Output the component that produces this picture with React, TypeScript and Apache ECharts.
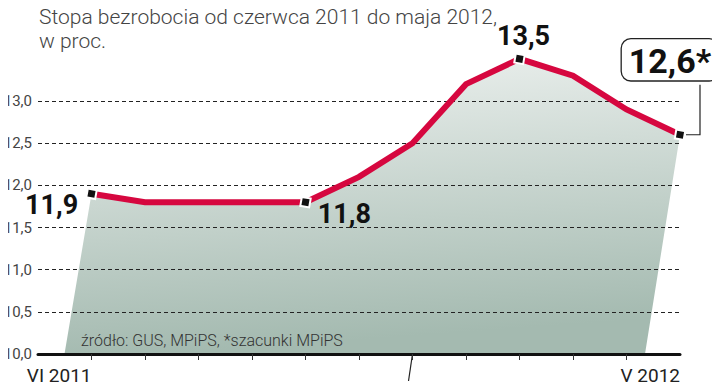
import React, { useEffect, useRef } from 'react';
import * as echarts from 'echarts';

const TITLE = 'Stopa bezrobocia od czerwca 2011 do maja 2012,\nw proc.';
const SOURCE = 'źródło: GUS, MPiPS, *szacunki MPiPS';
const months = ['VI 2011', 'VII', 'VIII', 'IX', 'X', 'XI', 'XII', 'I 2012', 'II', 'III', 'IV', 'V 2012'];
const rates = [11.9, 11.8, 11.8, 11.8, 11.8, 12.1, 12.5, 13.2, 13.5, 13.3, 12.9, 12.6];
const markedIdx = [0, 4, 8, 11];
const estimateIdx = [11];
const shownMonthLabels = ['VI 2011', 'V 2012'];
const yMin = 10;
const yMax = 13;
const yStep = 0.5;

const BOLD = "Roboto, 'Noto Sans', sans-serif";
const LIGHT = "Roboto, 'Noto Sans', sans-serif";

const fmt = (v: number) => v.toFixed(1).replace('.', ',');

export default function App() {
  const ref = useRef<HTMLDivElement>(null);
  useEffect(() => {
    const chart = echarts.init(ref.current!, null, { renderer: 'svg' });
    const cats = ['', ...months];
    const labelCfg: Record<number, any> = {
      0: { position: 'left', distance: 7, offset: [0, 11] },
      4: { position: 'right', distance: 6, offset: [0, 12] },
      8: { position: 'top', distance: 3, offset: [4, 0] },
      11: {
        position: 'top', distance: 4, offset: [-10, -44],
        fontSize: 34, backgroundColor: '#fff', borderColor: '#222', borderWidth: 1.3,
        borderRadius: 9, padding: [5, 7, 2, 7],
      },
    };
    const lineData = rates.map((v, i) => {
      const item: any = { value: [i + 1, v] };
      if (markedIdx.includes(i)) {
        item.symbol = 'rect';
        item.symbolSize = 9;
        item.symbolRotate = -10;
        item.itemStyle = { color: '#111', borderColor: '#fff', borderWidth: 2 };
        item.label = {
          show: true,
          fontFamily: BOLD,
          fontWeight: 'bold',
          fontSize: 27,
          color: '#111',
          formatter: fmt(v) + (estimateIdx.includes(i) ? '*' : ''),
          ...labelCfg[i],
        };
      }
      return item;
    });
    const gradient = new echarts.graphic.LinearGradient(0, 0, 0.15, 1, [
      { offset: 0, color: '#eef2f0' },
      { offset: 1, color: '#a4bab0' },
    ]);
    chart.setOption({
      animation: false,
      title: [
        {
          text: TITLE, left: 34, top: 0,
          textStyle: { fontFamily: LIGHT, fontWeight: 300, fontSize: 21, color: '#444', lineHeight: 24 },
        },
        {
          text: SOURCE, left: 76, top: 327,
          textStyle: { fontFamily: LIGHT, fontWeight: 300, fontSize: 16, color: '#333' },
        },
      ],
      grid: { left: 38, right: 40, top: 101, bottom: 36 },
      xAxis: {
        type: 'category',
        data: cats,
        boundaryGap: false,
        axisLine: { lineStyle: { color: '#111', width: 3 } },
        axisTick: {
          interval: (idx: number) => idx >= 1 && idx < cats.length - 1,
          length: 6,
          lineStyle: { color: '#333', width: 1 },
        },
        axisLabel: {
          interval: (idx: number, val: string) => shownMonthLabels.includes(val),
          align: 'right',
          margin: 12,
          fontFamily: LIGHT,
          fontSize: 19,
          color: '#222',
        },
        splitLine: { show: false },
      },
      yAxis: {
        type: 'value',
        min: yMin,
        max: yMax,
        interval: yStep,
        axisLine: { show: false },
        axisTick: { show: false },
        axisLabel: {
          formatter: (v: number) => fmt(v),
          margin: 6,
          fontFamily: LIGHT,
          fontWeight: 'normal',
          fontSize: 15,
          color: '#444',
        },
        splitLine: { lineStyle: { color: '#222', width: 1, type: [4, 3] } },
      },
      series: [
        {
          type: 'custom',
          z: -1,
          silent: true,
          clip: false,
          data: [[1, yMin]],
          renderItem: (params: any, api: any) => {
            if (params.dataIndex !== 0) return null;
            const pts = rates.map((v, i) => api.coord([i + 1, v]));
            const b0 = api.coord([1, yMin]);
            const bN = api.coord([rates.length, yMin]);
            const poly = [...pts, [bN[0] - 35, bN[1]], [b0[0] - 27, b0[1]]];
            const dec = api.coord([months.indexOf('XII') + 1, yMin]);
            const last = pts[pts.length - 1];
            return {
              type: 'group',
              children: [
                { type: 'polygon', shape: { points: poly }, style: { fill: gradient } },
                {
                  type: 'line',
                  shape: { x1: dec[0], y1: dec[1], x2: dec[0] - 4, y2: dec[1] + 27 },
                  style: { stroke: '#222', lineWidth: 1.2 },
                },
                {
                  type: 'polyline',
                  shape: { points: [[last[0] + 6, last[1]], [last[0] + 20, last[1]], [last[0] + 20, last[1] - 50]] },
                  style: { stroke: '#222', fill: null, lineWidth: 1.2 },
                },
              ],
            };
          },
        },
        {
          type: 'line',
          data: lineData,
          symbol: 'none',
          clip: false,
          z: 3,
          lineStyle: { color: '#d6073f', width: 6, join: 'miter' },
        },
      ],
    });
    return () => chart.dispose();
  }, []);
  return <div ref={ref} style={{ width: 720, height: 390, margin: -8 }} />;
}
